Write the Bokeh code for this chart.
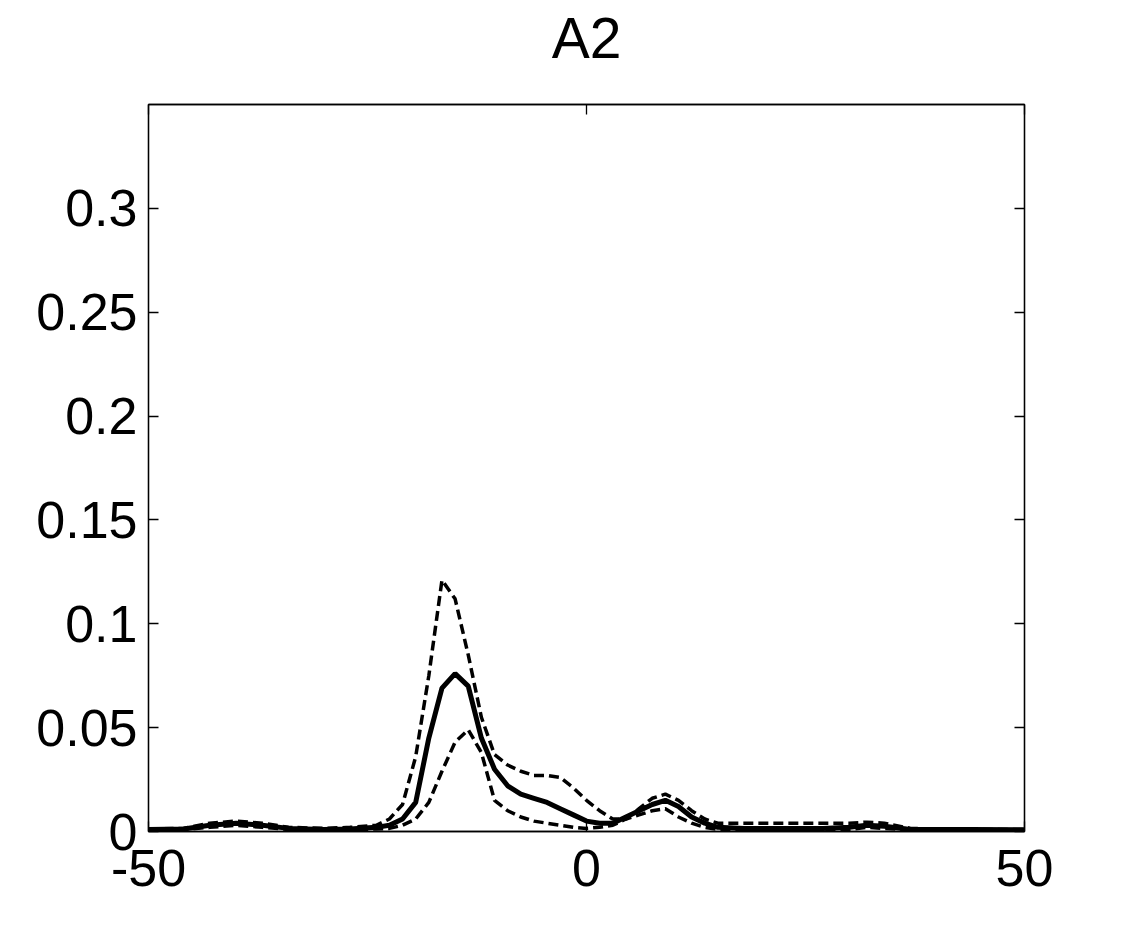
from bokeh.plotting import figure
from bokeh.models import LinearAxis, FixedTicker, Range1d
from bokeh.embed import file_html
from bokeh.resources import INLINE

x = [-50, -46, -43, -40, -37, -34, -30, -27, -24, -22.5, -21, -19.5, -18, -16.5, -15, -13.5,
     -12, -10.5, -9, -7.5, -6, -4.5, -3, -1.5, 0, 1.5, 3, 4.5, 6, 7.5, 9, 10.5, 12, 13.5, 15,
     18, 21, 24, 27, 30, 32, 34, 37, 40, 44, 50]

mean = [0.001, 0.0012, 0.003, 0.004, 0.003, 0.0015, 0.001, 0.0012, 0.002, 0.003, 0.006, 0.014,
        0.045, 0.069, 0.076, 0.070, 0.045, 0.030, 0.022, 0.018, 0.016, 0.014, 0.011, 0.008,
        0.005, 0.004, 0.004, 0.007, 0.010, 0.013, 0.015, 0.012, 0.007, 0.004, 0.002,
        0.0015, 0.0015, 0.0015, 0.0015, 0.002, 0.003, 0.0025, 0.001, 0.001, 0.001, 0.0008]

upper = [0.0012, 0.0015, 0.004, 0.005, 0.004, 0.002, 0.0015, 0.002, 0.003, 0.006, 0.013, 0.036,
         0.075, 0.121, 0.112, 0.085, 0.055, 0.037, 0.032, 0.029, 0.027, 0.027, 0.026, 0.021,
         0.015, 0.010, 0.006, 0.006, 0.011, 0.016, 0.018, 0.015, 0.010, 0.006, 0.004,
         0.004, 0.004, 0.004, 0.004, 0.004, 0.0045, 0.004, 0.0015, 0.0012, 0.001, 0.001]

lower = [0.0008, 0.001, 0.002, 0.003, 0.002, 0.001, 0.0008, 0.001, 0.0012, 0.0015, 0.003, 0.006,
         0.014, 0.029, 0.043, 0.049, 0.038, 0.015, 0.010, 0.007, 0.005, 0.004, 0.003, 0.002,
         0.0015, 0.002, 0.003, 0.006, 0.008, 0.010, 0.011, 0.007, 0.004, 0.002, 0.001,
         0.0008, 0.0008, 0.0008, 0.0008, 0.001, 0.002, 0.0015, 0.0008, 0.0008, 0.0008, 0.0008]

x_ticks = [-50, 0, 50]
y_ticks = [0, 0.05, 0.1, 0.15, 0.2, 0.25, 0.3]
y_tick_labels = ["0", "0.05", "0.1", "0.15", "0.2", "0.25", "0.3"]
title_text = "A2"

FONT = "Liberation Sans"

p = figure(width=1116, height=920, output_backend="svg", toolbar_location=None,
           x_range=Range1d(-50, 50), y_range=Range1d(0, 0.35),
           min_border_left=148, min_border_right=92, min_border_top=104, min_border_bottom=89,
           x_axis_location=None, y_axis_location=None)

p.outline_line_color = "black"
p.outline_line_width = 1.3
p.grid.visible = False
p.background_fill_color = "white"
p.border_fill_color = "white"

def make_axis(ticks, labels=None, show=True):
    ax = LinearAxis(ticker=FixedTicker(ticks=ticks))
    ax.major_tick_in = 10
    ax.major_tick_out = 0
    ax.minor_tick_in = 0
    ax.minor_tick_out = 0
    ax.major_tick_line_color = "black"
    ax.major_tick_line_width = 1.3
    ax.axis_line_color = "black"
    ax.axis_line_width = 1.3
    ax.major_label_text_font = FONT
    ax.major_label_text_font_size = "52px"
    ax.major_label_text_color = "black"
    if labels is not None:
        ax.major_label_overrides = {t: l for t, l in zip(ticks, labels)}
    if not show:
        ax.major_label_text_font_size = "0px"
        ax.major_label_text_color = None
        ax.major_label_standoff = 0
    return ax

bx = make_axis(x_ticks, [str(t) for t in x_ticks])
bx.major_label_standoff = 18
p.add_layout(bx, "below")
ly = make_axis(y_ticks, y_tick_labels)
ly.major_label_standoff = 11
p.add_layout(ly, "left")

# top axis: inward ticks only, carries the chart title as its label
top = make_axis(x_ticks, show=False)
top.axis_label = title_text
top.axis_label_text_font = FONT
top.axis_label_text_font_size = "57px"
top.axis_label_text_font_style = "normal"
top.axis_label_text_color = "black"
top.axis_label_standoff = 35
p.add_layout(top, "above")
p.add_layout(make_axis(y_ticks, show=False), "right")

p.line(x, upper, line_color="black", line_width=3.5, line_dash="10 5")
p.line(x, lower, line_color="black", line_width=3.5, line_dash="10 5")
p.line(x, mean, line_color="black", line_width=5)

open("out.html", "w").write(file_html(p, INLINE))
